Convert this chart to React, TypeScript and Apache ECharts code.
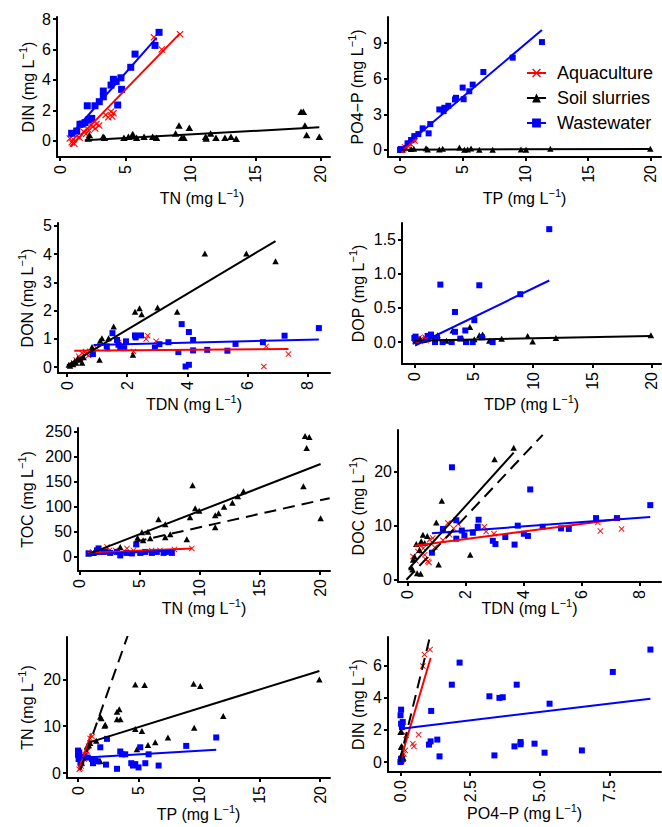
import React, { useEffect, useRef } from "react";
import * as echarts from "echarts";

type Pt = [number, number];

const GROUPS = ["Aquaculture", "Soil slurries", "Wastewater"];
const COLORS = ["#FF0000", "#000000", "#0000FF"];
const CROSS =
  "path://M0,1.1L1.1,0L5,3.9L8.9,0L10,1.1L6.1,5L10,8.9L8.9,10L5,6.1L1.1,10L0,8.9L3.9,5Z";
const SYMBOLS = [CROSS, "triangle", "rect"];
const FONT = "'Liberation Sans', Arial, Helvetica, sans-serif";
const UNIT = "(mg L{s|−1})";

// ---- DIN vs TN ----
const dinTnAqua: Pt[] = [[0.75, 0.15], [0.9, -0.1], [1.0, 0.1], [1.1, -0.2], [1.3, 0.3], [1.5, 0.2], [1.8, 0.6], [2.0, 0.45], [2.2, 0.7], [2.5, 0.9], [2.7, 0.8], [2.8, 1.1], [3.0, 1.0], [3.5, 1.7], [3.7, 1.55], [3.9, 1.9], [4.1, 1.8], [4.0, 1.6], [7.2, 6.8], [7.8, 6.0], [9.2, 7.0]];
const dinTnSoil: Pt[] = [[2.17, 0.15], [2.25, 0.37], [3.3, 0.26], [3.4, 0.2], [4.9, 0.2], [5.24, 0.26], [5.57, 0.44], [5.6, 0.3], [5.87, 0.2], [6.44, 0.26], [7.1, 0.26], [7.4, 0.2], [8.86, 0.48], [9.12, 1.0], [9.32, 0.2], [9.5, 0.2], [9.91, 0.86], [11.16, 0.26], [11.2, 0.15], [11.54, 0.48], [11.95, 0.2], [12.64, 0.2], [13.1, 0.26], [13.5, 0.13], [18.47, 1.9], [18.65, 1.9], [18.77, 1.0], [18.9, 0.37], [19.87, 0.26]];
const dinTnWaste: Pt[] = [[0.89, 0.49], [1.28, 0.64], [1.53, 1.08], [1.7, 1.1], [1.92, 1.19], [2.17, 1.36], [2.43, 1.47], [2.09, 2.3], [2.68, 2.3], [3.01, 2.57], [3.32, 2.89], [3.32, 3.27], [3.91, 3.66], [4.09, 4.04], [4.3, 3.9], [4.67, 4.14], [4.42, 2.35], [4.72, 3.38], [5.42, 4.83], [5.75, 5.7], [7.28, 6.27], [7.59, 7.13]];
const dinTnAquaFit: Pt[] = [[0.77, -0.39], [9.2, 7.06]];
const dinTnSoilFit: Pt[] = [[1.9, 0.04], [19.87, 0.88]];
const dinTnWasteFit: Pt[] = [[0.77, 0.33], [7.41, 6.78]];

// ---- PO4-P vs TP ----
const poTpAqua: Pt[] = [[0.2, 0.0], [0.3, 0.1], [0.35, 0.28], [0.5, 0.14], [0.6, 0.35], [0.74, 0.56], [0.85, 0.5], [1.0, 0.84], [1.1, 0.98], [1.2, 0.75]];
const poTpSoil: Pt[] = [[0.03, 0.02], [0.2, 0.05], [0.88, 0.08], [1.1, 0.1], [2.07, 0.15], [2.2, 0.05], [3.13, 0.05], [3.4, 0.1], [4.73, 0.2], [5.13, 0.02], [5.39, 0.05], [5.66, 0.12], [6.32, 0.03], [7.38, 0.03], [9.64, 0.04], [10.04, 0.03], [11.98, 0.1], [19.95, 0.1]];
const poTpWaste: Pt[] = [[0.0, 0.0], [0.05, 0.08], [0.6, 0.56], [0.88, 0.84], [1.14, 1.17], [1.46, 1.34], [1.8, 1.82], [2.28, 1.4], [2.41, 2.18], [3.13, 3.41], [3.47, 3.27], [3.53, 3.55], [3.85, 3.72], [4.38, 4.25], [4.46, 4.39], [5.07, 4.27], [4.99, 5.25], [5.52, 4.94], [5.79, 5.5], [6.64, 6.56], [8.98, 7.77], [11.31, 9.08]];
const poTpAquaFit: Pt[] = [[0.13, -0.22], [1.27, 1.03]];
const poTpSoilFit: Pt[] = [[0.05, 0.03], [19.95, 0.09]];
const poTpWasteFit: Pt[] = [[0.0, 0.0], [11.31, 10.1]];

// ---- DON vs TDN ----
const donTdnAqua: Pt[] = [[0.22, 0.14], [0.3, 0.25], [0.39, 0.38], [0.45, 0.3], [0.5, 0.49], [0.61, 0.55], [0.65, 0.45], [0.72, 0.41], [0.77, 0.55], [0.85, 0.5], [0.99, 0.67], [1.71, 0.87], [2.21, 0.55], [2.68, 1.11], [2.63, 0.99], [2.96, 0.91], [6.62, 0.73], [6.54, 0.02], [7.36, 0.46]];
const donTdnSoil: Pt[] = [[0.06, 0.08], [0.1, 0.05], [0.15, 0.12], [0.2, 0.1], [0.25, 0.2], [0.3, 0.15], [0.35, 0.3], [0.44, 0.26], [0.5, 0.15], [0.55, 0.35], [0.83, 0.71], [1.08, 0.26], [1.1, 0.93], [1.16, 1.02], [1.35, 0.67], [1.38, 1.02], [1.55, 1.44], [2.19, 0.44], [2.26, 1.96], [2.41, 2.08], [2.48, 1.87], [3.01, 2.11], [3.66, 1.96], [4.58, 4.02], [5.96, 4.02], [6.93, 3.75]];
const donTdnWaste: Pt[] = [[0.86, 0.46], [1.32, 0.73], [1.51, 1.2], [1.66, 0.96], [1.71, 0.79], [1.77, 0.69], [1.96, 0.91], [1.9, 0.67], [2.26, 1.12], [2.28, 1.05], [2.46, 1.12], [2.92, 0.69], [3.07, 0.81], [3.37, 0.88], [3.7, 0.53], [3.81, 1.52], [3.94, 0.02], [4.05, 0.08], [4.05, 1.24], [4.19, 0.96], [4.19, 0.59], [4.66, 0.61], [5.33, 0.58], [5.6, 0.82], [6.51, 0.88], [7.23, 1.11], [8.37, 1.38]];
const donTdnAquaFit: Pt[] = [[0.24, 0.58], [7.36, 0.64]];
const donTdnSoilFit: Pt[] = [[0.0, 0.05], [6.93, 4.46]];
const donTdnWasteFit: Pt[] = [[0.88, 0.78], [8.37, 0.98]];

// ---- DOP vs TDP ----
const dopTdpAqua: Pt[] = [[0.1, 0.0], [0.2, 0.04], [0.3, 0.02], [0.4, 0.06], [0.5, 0.01], [0.6, 0.05], [0.7, 0.03], [0.9, 0.07], [1.0, 0.02], [1.2, 0.05]];
const dopTdpSoil: Pt[] = [[0.1, 0.02], [0.5, 0.04], [0.8, 0.03], [1.1, 0.05], [1.6, 0.08], [1.96, 0.1], [2.7, 0.02], [3.23, 0.17], [4.0, 0.06], [4.68, 0.22], [5.05, 0.04], [5.47, 0.1], [5.75, 0.11], [6.31, 0.02], [7.35, 0.05], [9.54, 0.09], [9.96, 0.01], [11.92, 0.06], [19.92, 0.1]];
const dopTdpWaste: Pt[] = [[0.0, 0.06], [0.08, 0.04], [0.1, 0.08], [1.12, 0.09], [1.4, 0.11], [1.74, 0.0], [1.9, 0.06], [2.19, 0.84], [2.38, 0.0], [3.14, 0.0], [3.42, 0.44], [3.42, 0.15], [3.87, 0.05], [4.29, 0.17], [4.35, 0.0], [4.91, 0.0], [5.05, 0.32], [5.47, 0.83], [5.69, 0.07], [6.59, 0.0], [8.92, 0.7], [11.36, 1.65]];
const dopTdpAquaFit: Pt[] = [[0.1, 0.0], [1.2, 0.06]];
const dopTdpSoilFit: Pt[] = [[0.0, 0.02], [19.92, 0.09]];
const dopTdpWasteFit: Pt[] = [[0.06, -0.05], [11.36, 0.9]];

// ---- TOC vs TN ----
const tocTnAqua: Pt[] = [[0.8, 8], [1.1, 10], [1.5, 13], [2.3, 20], [2.5, 13], [3.0, 13], [3.96, 17], [4.5, 13], [5.1, 8], [6.0, 13], [6.7, 13], [7.9, 15], [9.35, 17]];
const tocTnSoil: Pt[] = [[0.77, 7], [1.19, 8], [2.3, 12], [3.4, 20], [4.73, 27], [4.84, 38], [5.2, 49], [5.3, 33], [5.7, 50], [5.89, 37], [6.58, 75], [7.14, 65], [7.14, 39], [7.55, 45], [8.93, 35], [9.2, 79], [9.41, 143], [9.63, 97], [9.96, 92], [11.29, 59], [11.29, 83], [11.57, 87], [12.03, 100], [12.72, 108], [13.17, 121], [13.64, 131], [18.62, 141], [18.76, 241], [18.89, 217], [19.11, 239], [20.05, 77]];
const tocTnWaste: Pt[] = [[0.77, 7], [1.47, 13], [1.6, 17], [2.0, 10], [2.57, 8], [3.13, 10], [3.4, 3], [3.9, 8], [4.37, 7], [4.73, 25], [5.06, 8], [5.48, 10], [6.03, 8], [6.44, 10], [7.0, 8], [7.4, 10], [7.69, 8]];
const tocTnAquaFit: Pt[] = [[0.7, 8], [9.35, 17]];
const tocTnSoilFit: Pt[] = [[0.69, 5], [20.05, 185]];
const tocTnWasteFit: Pt[] = [[0.7, 5], [7.8, 13]];
const tocTnSoilDash: Pt[] = [[4.6, 30], [20.8, 117]];

// ---- DOC vs TDN ----
const docTdnAqua: Pt[] = [[0.2, 4.3], [0.3, 3.5], [0.37, 5.2], [0.48, 6.3], [0.55, 5.8], [0.6, 4.6], [0.65, 3.7], [0.71, 3.4], [0.75, 3.2], [0.77, 7.4], [0.88, 7.7], [0.95, 6.0], [1.23, 7.3], [1.4, 10.5], [1.46, 8.3], [1.6, 9.5], [1.75, 10.3], [2.66, 9.8], [2.72, 8.9], [2.99, 8.5], [6.57, 10.6], [6.66, 9.0], [7.39, 9.4]];
const docTdnSoil: Pt[] = [[0.14, 2.3], [0.18, 1.9], [0.2, 3.7], [0.25, 4.3], [0.31, 6.6], [0.34, 1.2], [0.42, 5.5], [0.46, 1.1], [0.48, 7.1], [0.54, 8.3], [0.6, 6.8], [0.69, 8.1], [1.0, 10.6], [1.08, 2.8], [1.19, 14.6], [2.17, 4.6], [3.01, 22.3], [3.67, 24.4]];
const docTdnWaste: Pt[] = [[0.85, 5.0], [1.23, 9.4], [1.54, 20.8], [1.69, 11.0], [1.69, 7.6], [1.88, 9.1], [1.97, 8.2], [2.26, 8.7], [2.43, 9.8], [2.46, 11.1], [2.95, 7.2], [3.04, 6.6], [3.38, 7.9], [3.7, 6.5], [3.81, 10.0], [4.02, 8.5], [4.16, 8.1], [4.24, 16.7], [4.67, 9.8], [5.3, 9.5], [5.57, 9.4], [6.51, 11.4], [7.23, 11.4], [8.38, 13.8]];
const docTdnAquaFit: Pt[] = [[0.25, 6.3], [7.39, 11.3]];
const docTdnSoilFit: Pt[] = [[0.05, 2.0], [3.67, 23.5]];
const docTdnWasteFit: Pt[] = [[0.85, 8.6], [8.38, 11.6]];
const docTdnSoilDash: Pt[] = [[-0.03, 0.0], [4.67, 26.8]];

// ---- TN vs TP ----
const tnTpAqua: Pt[] = [[0.1, 0.8], [0.19, 1.06], [0.25, 1.5], [0.33, 2.1], [0.41, 3.2], [0.5, 3.0], [0.6, 3.9], [0.7, 4.0], [0.74, 4.6], [0.88, 5.7], [1.0, 7.4], [1.16, 7.8]];
const tnTpSoil: Pt[] = [[0.75, 5.7], [0.88, 6.0], [1.0, 6.4], [1.51, 6.9], [1.84, 12.0], [1.84, 2.5], [1.93, 11.7], [2.2, 10.1], [2.25, 10.3], [3.22, 13.1], [3.41, 13.6], [3.22, 11.5], [3.5, 11.5], [4.73, 18.9], [4.73, 9.4], [4.87, 5.1], [5.28, 9.0], [5.5, 18.8], [5.78, 6.0], [6.38, 6.6], [7.43, 7.6], [9.55, 19.1], [9.6, 9.7], [10.1, 18.6], [12.0, 12.2], [19.94, 20.0]];
const tnTpWaste: Pt[] = [[0.0, 4.8], [0.1, 4.4], [0.0, 3.9], [0.05, 3.0], [0.2, 2.3], [0.27, 2.1], [0.47, 3.5], [0.8, 3.3], [1.16, 3.0], [1.24, 2.1], [1.43, 2.6], [1.6, 2.5], [1.84, 5.5], [2.39, 7.3], [2.31, 1.8], [3.22, 0.9], [3.49, 4.6], [3.63, 4.0], [3.9, 4.0], [4.4, 2.1], [4.54, 1.6], [4.73, 1.9], [5.0, 1.2], [5.14, 5.5], [5.56, 2.1], [5.83, 4.0], [6.66, 1.6], [8.94, 5.8], [11.42, 7.6]];
const tnTpAquaFit: Pt[] = [[0.05, 0.7], [1.1, 8.5]];
const tnTpSoilFit: Pt[] = [[0.88, 6.5], [19.94, 21.8]];
const tnTpWasteFit: Pt[] = [[0.0, 3.2], [11.42, 5.0]];
const tnTpSoilDash: Pt[] = [[0.19, 0.7], [4.1, 29.3]];

// ---- DIN vs PO4-P ----
const dinPoAqua: Pt[] = [[0.05, 0.1], [0.08, 0.21], [0.12, 0.5], [0.17, 0.72], [0.2, 1.66], [0.44, 1.14], [0.48, 0.97], [0.65, 1.7], [0.8, 5.96], [0.86, 6.67], [1.06, 6.98]];
const dinPoSoil: Pt[] = [[0.0, 0.15], [0.02, 0.37], [0.03, 0.26], [0.01, 0.2], [0.05, 0.44], [0.02, 0.93], [0.04, 1.0], [0.0, 1.86], [0.03, 1.9], [0.06, 0.48], [0.08, 0.2], [0.1, 0.26], [0.02, 0.05]];
const dinPoWaste: Pt[] = [[0.0, 0.0], [0.02, 0.2], [0.0, 2.9], [0.02, 3.25], [0.02, 2.38], [0.08, 2.48], [0.05, 2.17], [1.02, 1.08], [1.08, 1.28], [1.1, 3.17], [1.32, 1.39], [1.4, 0.35], [1.84, 4.8], [2.12, 6.17], [3.19, 4.08], [3.37, 0.41], [3.55, 3.98], [3.67, 4.02], [4.09, 0.97], [4.17, 4.8], [4.31, 1.24], [4.31, 1.1], [4.81, 1.14], [5.17, 0.58], [5.35, 3.62], [6.51, 0.72], [7.62, 5.59], [8.97, 6.98]];
const dinPoAquaFit: Pt[] = [[0.02, 0.25], [1.08, 6.46]];
const dinPoWasteFit: Pt[] = [[0.02, 2.07], [8.97, 3.93]];
const dinPoSoilDash: Pt[] = [[-0.04, 0.0], [1.06, 7.8]];

// ---- tick values ----
const ticks0to20 = [0, 5, 10, 15, 20];
const ticks0to8 = [0, 2, 4, 6, 8];
const ticksPO4x = [0, 2.5, 5, 7.5];

interface AxisSpec {
  min: number;
  max: number;
  ticks: number[];
  digits: number;
  title: string;
  gap: number;
  shift?: number;
}
interface Panel {
  box: { left: number; top: number; width: number; height: number };
  x: AxisSpec;
  y: AxisSpec;
  points: Pt[][];
  fits: (Pt[] | null)[];
  dashed?: Pt[];
  sizes: (number | number[])[];
}

const small = [6, [6.5, 6], 6];
const panels: Panel[] = [
  {
    box: { left: 57, top: 17, width: 273, height: 140 },
    x: { min: -0.23, max: 20.69, ticks: ticks0to20, digits: 0, title: `TN ${UNIT}`, gap: 30, shift: 17 },
    y: { min: -1.07, max: 8.14, ticks: [0, 2, 4, 6, 8], digits: 0, title: `DIN ${UNIT}`, gap: 18 },
    points: [dinTnAqua, dinTnSoil, dinTnWaste],
    fits: [dinTnAquaFit, dinTnSoilFit, dinTnWasteFit],
    sizes: [7, [7.5, 6.5], 7],
  },
  {
    box: { left: 388, top: 17, width: 273, height: 140 },
    x: { min: -0.96, max: 20.8, ticks: ticks0to20, digits: 0, title: `TP ${UNIT}`, gap: 30 },
    y: { min: -0.59, max: 11.19, ticks: [0, 3, 6, 9], digits: 0, title: `PO4−P ${UNIT}`, gap: 20 },
    points: [poTpAqua, poTpSoil, poTpWaste],
    fits: [poTpAquaFit, poTpSoilFit, poTpWasteFit],
    sizes: small,
  },
  {
    box: { left: 58, top: 223, width: 272, height: 150 },
    x: { min: -0.3, max: 8.74, ticks: ticks0to8, digits: 0, title: `TDN ${UNIT}`, gap: 20 },
    y: { min: -0.21, max: 5.1, ticks: [0, 1, 2, 3, 4, 5], digits: 0, title: `DON ${UNIT}`, gap: 20 },
    points: [donTdnAqua, donTdnSoil, donTdnWaste],
    fits: [donTdnAquaFit, donTdnSoilFit, donTdnWasteFit],
    sizes: small,
  },
  {
    box: { left: 402, top: 223, width: 259, height: 141 },
    x: { min: -1.04, max: 20.77, ticks: ticks0to20, digits: 0, title: `TDP ${UNIT}`, gap: 29 },
    y: { min: -0.32, max: 1.74, ticks: [0, 0.5, 1, 1.5], digits: 1, title: `DOP ${UNIT}`, gap: 33 },
    points: [dopTdpAqua, dopTdpSoil, dopTdpWaste],
    fits: [dopTdpAquaFit, dopTdpSoilFit, dopTdpWasteFit],
    sizes: small,
  },
  {
    box: { left: 78, top: 428, width: 252, height: 143 },
    x: { min: -0.11, max: 20.83, ticks: ticks0to20, digits: 0, title: `TN ${UNIT}`, gap: 26 },
    y: { min: -28, max: 256.8, ticks: [0, 50, 100, 150, 200, 250], digits: 0, title: `TOC ${UNIT}`, gap: 40 },
    points: [tocTnAqua, tocTnSoil, tocTnWaste],
    fits: [tocTnAquaFit, tocTnSoilFit, tocTnWasteFit],
    dashed: tocTnSoilDash,
    sizes: small,
  },
  {
    box: { left: 398, top: 430, width: 263, height: 152 },
    x: { min: -0.32, max: 8.75, ticks: ticks0to8, digits: 0, title: `TDN ${UNIT}`, gap: 15 },
    y: { min: -0.42, max: 27.7, ticks: [0, 10, 20], digits: 0, title: `DOC ${UNIT}`, gap: 29 },
    points: [docTdnAqua, docTdnSoil, docTdnWaste],
    fits: [docTdnAquaFit, docTdnSoilFit, docTdnWasteFit],
    dashed: docTdnSoilDash,
    sizes: small,
  },
  {
    box: { left: 67, top: 637, width: 263, height: 141 },
    x: { min: -0.91, max: 20.82, ticks: ticks0to20, digits: 0, title: `TP ${UNIT}`, gap: 25 },
    y: { min: -1.06, max: 29.06, ticks: [0, 10, 20], digits: 0, title: `TN ${UNIT}`, gap: 29 },
    points: [tnTpAqua, tnTpSoil, tnTpWaste],
    fits: [tnTpAquaFit, tnTpSoilFit, tnTpWasteFit],
    dashed: tnTpSoilDash,
    sizes: small,
  },
  {
    box: { left: 388, top: 637, width: 273, height: 135 },
    x: { min: -0.45, max: 9.35, ticks: ticksPO4x, digits: 1, title: `PO4−P ${UNIT}`, gap: 30 },
    y: { min: -0.62, max: 7.76, ticks: [0, 2, 4, 6], digits: 0, title: `DIN ${UNIT}`, gap: 19 },
    points: [dinPoAqua, dinPoSoil, dinPoWaste],
    fits: [dinPoAquaFit, null, dinPoWasteFit],
    dashed: dinPoSoilDash,
    sizes: small,
  },
];

const nameStyle = (shift = 0) => ({
  fontFamily: FONT,
  fontSize: 16,
  color: "#000",
  lineHeight: 22,
  padding: [0, 0, 0, shift],
  rich: {
    s: { fontFamily: FONT, fontSize: 11, lineHeight: 10, verticalAlign: "top", color: "#000" },
  },
});

function axisOption(spec: AxisSpec, i: number, isX: boolean) {
  return {
    type: "value",
    gridIndex: i,
    min: spec.min,
    max: spec.max,
    name: spec.title,
    nameLocation: "middle",
    nameRotate: isX ? 0 : 90,
    nameGap: spec.gap,
    nameMoveOverlap: false,
    nameTextStyle: nameStyle(spec.shift || 0),
    axisLine: { show: true, onZero: false, lineStyle: { color: "#000", width: 2 } },
    axisTick: {
      show: true,
      length: 4,
      customValues: spec.ticks,
      lineStyle: { color: "#000", width: 2 },
    },
    axisLabel: {
      customValues: spec.ticks,
      formatter: (v: number) => v.toFixed(spec.digits),
      fontFamily: FONT,
      fontSize: 16,
      color: "#000",
      margin: isX ? 8 : 6,
      rotate: isX ? 90 : 0,
    },
    splitLine: { show: false },
  };
}

function buildOption() {
  const grids: any[] = [];
  const xAxes: any[] = [];
  const yAxes: any[] = [];
  const lines: any[] = [];
  const scatters: any[] = [];

  panels.forEach((p, i) => {
    grids.push({ ...p.box, containLabel: false, outerBoundsMode: "none" });
    xAxes.push(axisOption(p.x, i, true));
    yAxes.push(axisOption(p.y, i, false));

    p.points.forEach((pts, g) => {
      scatters.push({
        type: "scatter",
        name: GROUPS[g],
        xAxisIndex: i,
        yAxisIndex: i,
        data: pts,
        symbol: SYMBOLS[g],
        symbolSize: p.sizes[g],
        itemStyle: { color: COLORS[g], opacity: 1 },
        silent: true,
        z: 2,
      });
    });

    p.fits.forEach((fit, g) => {
      if (!fit) return;
      lines.push({
        type: "line",
        name: GROUPS[g],
        xAxisIndex: i,
        yAxisIndex: i,
        data: fit,
        showSymbol: false,
        symbol: SYMBOLS[g],
        lineStyle: { color: COLORS[g], width: 2 },
        itemStyle: { color: COLORS[g] },
        silent: true,
        clip: true,
        z: 3,
      });
    });

    if (p.dashed) {
      lines.push({
        type: "line",
        name: GROUPS[1],
        xAxisIndex: i,
        yAxisIndex: i,
        data: p.dashed,
        showSymbol: false,
        symbol: SYMBOLS[1],
        lineStyle: { color: "#000", width: 2, type: [12, 7] },
        itemStyle: { color: "#000" },
        silent: true,
        clip: true,
        z: 3,
      });
    }
  });

  return {
    animation: false,
    backgroundColor: "#ffffff",
    grid: grids,
    xAxis: xAxes,
    yAxis: yAxes,
    legend: {
      data: GROUPS,
      orient: "vertical",
      left: 526,
      top: 63,
      padding: 0,
      itemWidth: 19,
      itemHeight: 11,
      itemGap: 5,
      selectedMode: false,
      textStyle: { fontFamily: FONT, fontSize: 18, color: "#000", lineHeight: 20, padding: [0, 0, 0, 6] },
    },
    series: [...lines, ...scatters],
  };
}

export default function App() {
  const ref = useRef<HTMLDivElement>(null);

  useEffect(() => {
    document.body.style.margin = "0";
    if (!ref.current) return;
    const chart = echarts.init(ref.current, undefined, { renderer: "svg" });
    chart.setOption(buildOption() as any);
    return () => chart.dispose();
  }, []);

  return <div ref={ref} style={{ width: 662, height: 827, background: "#fff" }} />;
}
